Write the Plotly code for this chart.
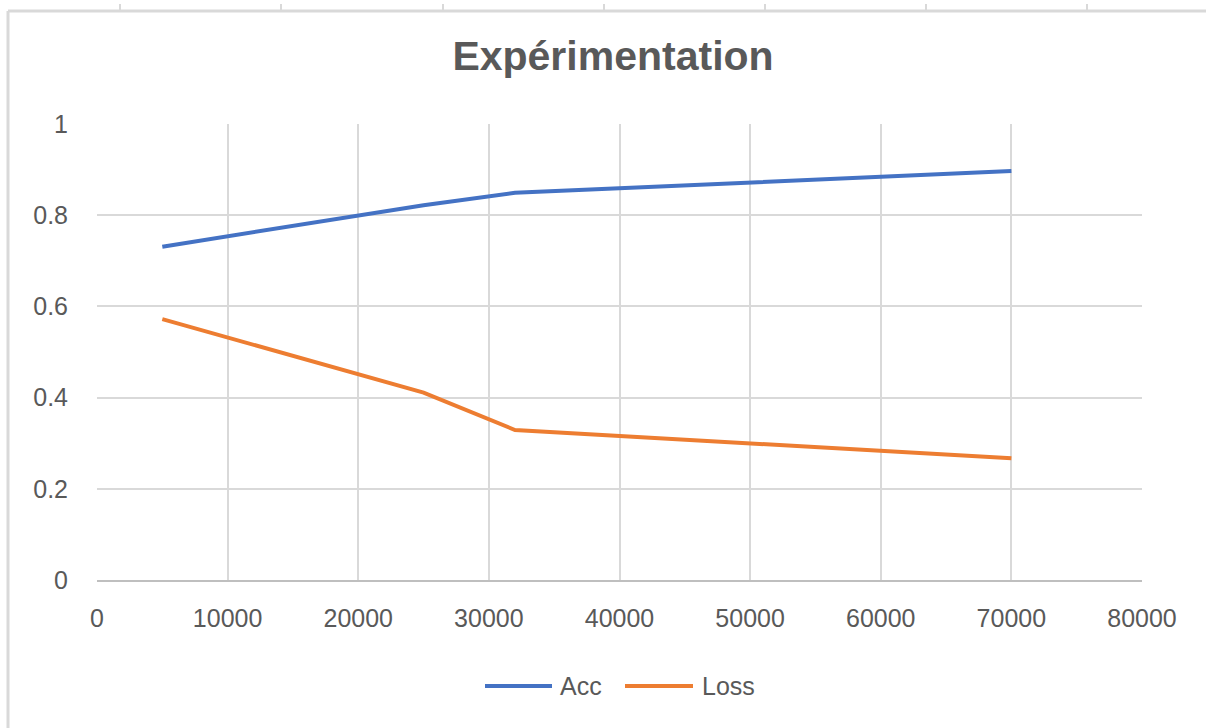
import plotly.graph_objects as go

# Training-set size vs. metrics
samples = [5000, 25000, 32000, 70000]
acc = [0.731, 0.822, 0.849, 0.897]
loss = [0.572, 0.411, 0.329, 0.267]

series_names = ["Acc", "Loss"]
series_colors = ["#4472C4", "#ED7D31"]

x_ticks = [0, 10000, 20000, 30000, 40000, 50000, 60000, 70000, 80000]
y_ticks = [0, 0.2, 0.4, 0.6, 0.8, 1]
y_tick_text = ["0", "0.2", "0.4", "0.6", "0.8", "1"]

title_text = "Expérimentation"

W, H = 1206, 728
L, R, T, B = 97, 64, 124, 148
PW, PH = W - L - R, H - T - B

FONT = "Liberation Sans, Arial, sans-serif"
TEXT = "#595959"
GRID = "#d9d9d9"


def px_x(px):
    return (px - L) / PW


def px_y(py):
    return (H - B - py) / PH


fig = go.Figure()
for name, ys, col in zip(series_names, [acc, loss], series_colors):
    fig.add_trace(go.Scatter(
        x=samples, y=ys, mode="lines", name=name,
        line=dict(color=col, width=4), showlegend=False,
    ))

shapes = []
annotations = []

# Outer chart frame (top and left edges) and sheet column marks
shapes.append(dict(type="line", xref="paper", yref="paper",
                   x0=px_x(8), x1=px_x(1210), y0=px_y(11), y1=px_y(11),
                   line=dict(color=GRID, width=3), layer="below"))
shapes.append(dict(type="line", xref="paper", yref="paper",
                   x0=px_x(8), x1=px_x(8), y0=px_y(11), y1=px_y(735),
                   line=dict(color=GRID, width=3), layer="below"))
for cx in [120, 281, 443, 604, 765, 926, 1087]:
    shapes.append(dict(type="line", xref="paper", yref="paper",
                       x0=px_x(cx), x1=px_x(cx), y0=px_y(4), y1=px_y(11),
                       line=dict(color=GRID, width=2), layer="below"))

# Legend drawn below the plot
legend_items = [(558, 485, 552), (700, 625, 693)]
for (tx, lx0, lx1), name, col in zip(legend_items, series_names, series_colors):
    shapes.append(dict(type="line", xref="paper", yref="paper",
                       x0=px_x(lx0), x1=px_x(lx1), y0=px_y(686), y1=px_y(686),
                       line=dict(color=col, width=4)))
    annotations.append(dict(text=name, xref="paper", yref="paper",
                            x=px_x(tx), y=px_y(686), xanchor="left", yanchor="middle",
                            showarrow=False, font=dict(family=FONT, size=25, color=TEXT)))

fig.update_layout(
    width=W, height=H, autosize=False,
    margin=dict(l=L, r=R, t=T, b=B),
    paper_bgcolor="white", plot_bgcolor="white",
    title=dict(text=title_text, x=613 / W, xanchor="center",
               y=1 - 56 / H, yanchor="middle",
               font=dict(family=FONT, size=41, color=TEXT, weight="bold")),
    shapes=shapes,
    annotations=annotations,
    showlegend=False,
)

fig.update_xaxes(
    range=[0, 80000], tickvals=x_ticks, ticktext=[str(v) for v in x_ticks],
    showgrid=True, gridcolor=GRID, gridwidth=2,
    showline=True, linecolor="#bfbfbf", linewidth=2,
    zeroline=False, ticks="", ticklabelstandoff=15,
    tickfont=dict(family=FONT, size=25, color=TEXT),
)
fig.update_yaxes(
    range=[0, 1], tickvals=y_ticks, ticktext=y_tick_text,
    showgrid=True, gridcolor=GRID, gridwidth=2,
    showline=False, zeroline=False, ticks="", ticklabelstandoff=28,
    tickfont=dict(family=FONT, size=25, color=TEXT),
)

fig.write_html("out.html")
